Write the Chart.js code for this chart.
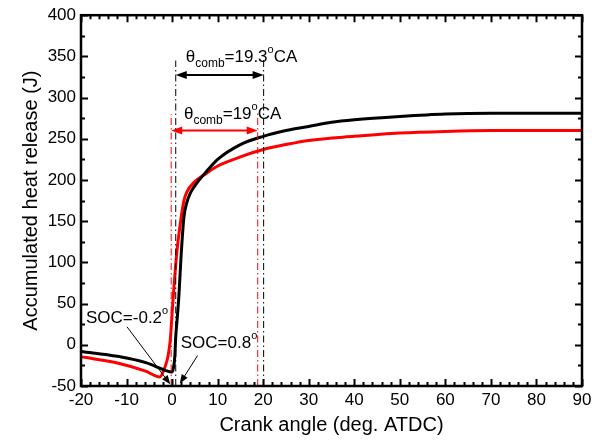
<!DOCTYPE html>
<html>
<head>
<meta charset="utf-8">
<script src="https://cdn.jsdelivr.net/npm/chart.js@4"></script>
<style>
  html, body { margin: 0; padding: 0; background: #fff; }
  #wrap { width: 600px; height: 441px; }
</style>
</head>
<body>
<div id="wrap"><canvas id="heatChart" width="600" height="441"></canvas></div>
<script>
// crank angle (deg ATDC) and accumulated heat release (J)
const angleBlack = [-20, -12, -5.6, -2, -1.5, -0.1, 0.3, 0.6, 0.8, 1.1, 1.5, 2.0, 2.6, 3.2, 4, 5, 7.5, 10, 15, 20, 25, 30, 35, 40, 50, 60, 70, 80, 90];
const heatBlack  = [-8, -14, -22, -30, -31, -33, -28, -14, 10, 30, 60, 110, 155, 172, 184, 193, 210, 225, 243, 253, 260, 265, 270, 273, 277, 280, 281, 281, 281];

const angleRed = [-20, -12, -5.8, -2.7, -1.5, -0.9, -0.4, 0.2, 1, 2, 2.6, 3.2, 5, 7.5, 10, 15, 20, 25, 30, 40, 50, 60, 70, 80, 90];
const heatRed  = [-14.5, -22, -32, -39, -26, -14, 6, 54, 110, 155, 175, 185, 198, 208, 217, 228, 237, 243, 248, 253, 257, 259, 260, 260, 260];

// start of combustion / end of combustion markers
const socBlack = 0.8, eocBlack = 20.1;
const socRed = -0.2, eocRed = 18.8;

const xTicks = [-20, 90, 10];
const yTicks = [-50, 400, 50];

const FONT = '"Liberation Sans", Arial, sans-serif';

function pts(xs, ys) {
    return xs.map((x, i) => ({ x: x, y: ys[i] }));
}

function vline(x, top) {
    return [{ x: x, y: -50 }, { x: x, y: top }];
}

const dashDot = [7, 3, 1.5, 3];

function arrowHead(ctx, x, y, dir, len, half) {
    // dir: angle in radians the arrow points to
    ctx.beginPath();
    ctx.moveTo(x, y);
    ctx.lineTo(x - len * Math.cos(dir) + half * Math.sin(dir), y - len * Math.sin(dir) - half * Math.cos(dir));
    ctx.lineTo(x - len * Math.cos(dir) - half * Math.sin(dir), y - len * Math.sin(dir) + half * Math.cos(dir));
    ctx.closePath();
    ctx.fill();
}

// draws text pieces: [text, size, dy]
function richText(ctx, x, y, parts, color) {
    ctx.fillStyle = color;
    ctx.textBaseline = 'alphabetic';
    ctx.textAlign = 'left';
    let cx = x;
    parts.forEach(p => {
        ctx.font = p[1] + 'px ' + FONT;
        ctx.fillText(p[0], cx, y + p[2]);
        cx += ctx.measureText(p[0]).width;
    });
}

const annotations = {
    id: 'annotations',
    afterDatasetsDraw(chart) {
        const ctx = chart.ctx;
        const xs = chart.scales.x, ys = chart.scales.y;
        const a = chart.chartArea;
        const px = v => xs.getPixelForValue(v);
        const py = v => ys.getPixelForValue(v);
        ctx.save();

        // frame
        ctx.strokeStyle = '#000';
        ctx.lineWidth = 2.5;
        ctx.strokeRect(a.left, a.top, a.right - a.left, a.bottom - a.top);

        // inward ticks on all four sides
        ctx.lineWidth = 2;
        ctx.beginPath();
        for (let v = xTicks[0]; v <= xTicks[1]; v += 2) {
            const len = (v % 10 === 0) ? 7 : 4;
            const x = Math.round(px(v)) + 0.5;
            ctx.moveTo(x, a.bottom); ctx.lineTo(x, a.bottom - len);
            ctx.moveTo(x, a.top); ctx.lineTo(x, a.top + len);
        }
        for (let v = yTicks[0]; v <= yTicks[1]; v += 25) {
            const len = (v % 50 === 0) ? 7 : 4;
            const y = Math.round(py(v)) + 0.5;
            ctx.moveTo(a.left, y); ctx.lineTo(a.left + len, y);
            ctx.moveTo(a.right, y); ctx.lineTo(a.right - len, y);
        }
        ctx.stroke();

        // combustion duration arrows
        const dur = [
            [socBlack, eocBlack, 327.5, '#000'],
            [socRed, eocRed, 260, '#ff0000']
        ];
        dur.forEach(d => {
            const x1 = px(d[0]), x2 = px(d[1]), y = py(d[2]);
            ctx.strokeStyle = d[3];
            ctx.fillStyle = d[3];
            ctx.lineWidth = 2;
            ctx.beginPath();
            ctx.moveTo(x1 + 6, y); ctx.lineTo(x2 - 6, y);
            ctx.stroke();
            arrowHead(ctx, x1, y, Math.PI, 11, 4);
            arrowHead(ctx, x2, y, 0, 11, 4);
        });

        // SOC pointer arrows
        ctx.strokeStyle = '#000';
        ctx.fillStyle = '#000';
        ctx.lineWidth = 1;
        const pointers = [
            [-9.9, 21.8, -0.4, -48],
            [5.6, -13, 1.7, -47]
        ];
        pointers.forEach(p => {
            const x1 = px(p[0]), y1 = py(p[1]), x2 = px(p[2]), y2 = py(p[3]);
            const ang = Math.atan2(y2 - y1, x2 - x1);
            ctx.beginPath();
            ctx.moveTo(x1, y1);
            ctx.lineTo(x2 - 6 * Math.cos(ang), y2 - 6 * Math.sin(ang));
            ctx.stroke();
            arrowHead(ctx, x2, y2, ang, 9, 3.5);
        });

        // labels
        richText(ctx, px(3.0), py(343.5), [['θ', 17, 0], ['comb', 12, 5], ['=19.3', 17, 0], ['o', 11, -9], ['CA', 17, 0]], '#000');
        richText(ctx, px(2.6), py(274.6), [['θ', 17, 0], ['comb', 12, 5], ['=19', 17, 0], ['o', 11, -9], ['CA', 17, 0]], '#000');
        richText(ctx, px(-18.9), py(26.6), [['SOC=-0.2', 17, 0], ['o', 11, -9]], '#000');
        richText(ctx, px(1.9), py(-3.6), [['SOC=0.8', 17, 0], ['o', 11, -9]], '#000');

        ctx.restore();
    }
};

const heatData = {
    datasets: [
        {
            data: vline(socBlack, 345), borderColor: '#000', borderWidth: 1,
            borderDash: dashDot, pointRadius: 0
        },
        {
            data: vline(eocBlack, 347), borderColor: '#000', borderWidth: 1,
            borderDash: dashDot, pointRadius: 0
        },
        {
            data: vline(socRed, 280), borderColor: '#ff0000', borderWidth: 1,
            borderDash: dashDot, pointRadius: 0
        },
        {
            data: vline(eocRed, 282), borderColor: '#ff0000', borderWidth: 1,
            borderDash: dashDot, pointRadius: 0
        },
        {
            data: pts(angleBlack, heatBlack), borderColor: '#000', borderWidth: 3,
            pointRadius: 0, tension: 0.2, cubicInterpolationMode: 'monotone'
        },
        {
            data: pts(angleRed, heatRed), borderColor: '#ff0000', borderWidth: 3,
            pointRadius: 0, tension: 0.2, cubicInterpolationMode: 'monotone'
        }
    ]
};

const heatOptions = {
    responsive: false,
    animation: false,
    layout: { padding: { left: 0, right: 18, top: 14, bottom: 0 } },
    plugins: {
        legend: { display: false },
        tooltip: { enabled: false }
    },
    scales: {
        x: {
            type: 'linear',
            min: xTicks[0], max: xTicks[1],
            ticks: { stepSize: xTicks[2], color: '#000', font: { family: FONT, size: 17 }, padding: 4, maxRotation: 0 },
            grid: { display: false, drawTicks: false },
            border: { display: false },
            title: { display: true, text: 'Crank angle (deg. ATDC)', color: '#000', font: { family: FONT, size: 20 }, padding: { top: 1 } },
            afterFit(scale) { scale.height = 55; }
        },
        y: {
            type: 'linear',
            min: yTicks[0], max: yTicks[1],
            ticks: { stepSize: yTicks[2], color: '#000', font: { family: FONT, size: 17 }, padding: 5 },
            grid: { display: false, drawTicks: false },
            border: { display: false },
            title: { display: true, text: 'Accumulated heat release (J)', color: '#000', font: { family: FONT, size: 20 }, padding: { top: 19, bottom: 0 } },
            afterFit(scale) { scale.width = 81; }
        }
    }
};

const heatChart = new Chart(document.getElementById('heatChart'), {
    type: 'line',
    data: heatData,
    options: heatOptions,
    plugins: [annotations]
});
</script>
</body>
</html>
